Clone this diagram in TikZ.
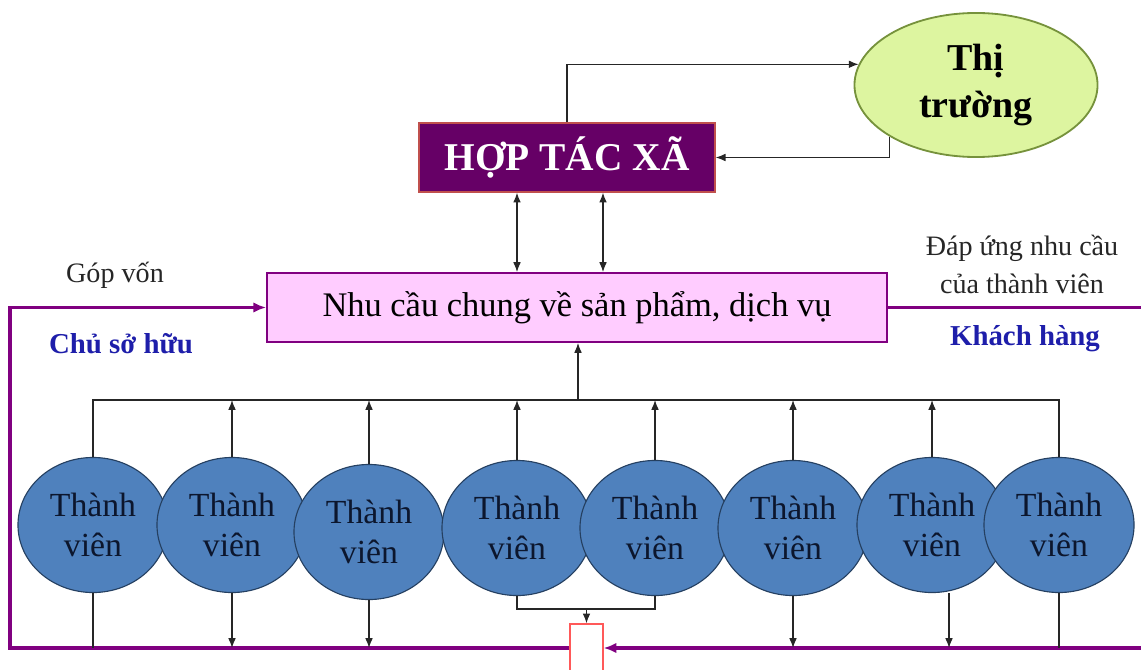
\documentclass[tikz,border=0pt]{standalone}
\usepackage{fontspec}
\setmainfont{Liberation Serif}
\usetikzlibrary{calc,shapes.geometric,arrows.meta}
\definecolor{htxfill}{RGB}{102,0,102}
\definecolor{htxline}{RGB}{192,80,77}
\definecolor{ncfill}{RGB}{255,204,255}
\definecolor{ncline}{RGB}{128,0,128}
\definecolor{ttfill}{RGB}{221,245,160}
\definecolor{ttline}{RGB}{118,146,60}
\definecolor{tvfill}{RGB}{79,129,189}
\definecolor{tvline}{RGB}{37,64,97}
\definecolor{tvtext}{RGB}{12,22,45}
\definecolor{vonline}{RGB}{128,0,128}
\definecolor{labblue}{RGB}{30,30,170}
\tikzset{
	htxbox/.style={rectangle, draw=htxline, fill=htxfill, line width=0.9pt, minimum width=7.4cm, minimum height=1.725cm, text=white, font=\fontsize{28}{32}\selectfont\bfseries},
	ncbox/.style={rectangle, draw=ncline, fill=ncfill, line width=1.3pt, minimum width=15.5cm, minimum height=1.725cm, font=\fontsize{24.5}{28}\selectfont},
	ttoval/.style={ellipse, draw=ttline, fill=ttfill, line width=1.3pt, minimum width=6.075cm, minimum height=3.6cm, inner sep=0pt, align=center, font=\fontsize{27}{33}\selectfont\bfseries},
	thanhvien/.style={ellipse, draw=tvline, fill=tvfill, line width=0.8pt, minimum width=3.75cm, minimum height=3.375cm, inner sep=0pt, align=center, text=tvtext, font=\fontsize{24}{28.5}\selectfont},
	hopbox/.style={rectangle, draw=red!65, fill=white, line width=0.9pt, minimum width=0.825cm, minimum height=1.65cm},
	ln/.style={line width=0.9pt, color=black!85},
	arr/.style={ln, -{Latex[length=7pt,width=5.5pt]}},
	dblarr/.style={ln, {Latex[length=7pt,width=5.5pt]}-{Latex[length=7pt,width=5.5pt]}},
	vonpath/.style={line width=2.2pt, color=vonline, -{Latex[length=9pt,width=7.5pt]}},
	lab/.style={text=black!85, font=\fontsize{20}{27}\selectfont},
	role/.style={text=labblue, font=\fontsize{20.5}{24}\selectfont\bfseries}
}
\begin{document}
\begin{tikzpicture}[x=0.025cm, y=-0.025cm]
	%%%%% START %%%%%
	\useasboundingbox (0,0) rectangle (1141,669);

	\node[htxbox] (htx) at (567,157.5) {HỢP TÁC XÃ};
	\node[ttoval] (tt) at (976,85) {Thị\\trường};
	\node[ncbox] (nc) at (577,307.5) {Nhu cầu chung về sản phẩm, dịch vụ};
	\node[hopbox] (box) at (586.5,657) {};

	\foreach \i/\x/\y in {1/93/525, 2/232/525, 3/369/532, 4/517/528, 5/655/528, 6/793/528, 7/932/525, 8/1059/525}
		\node[thanhvien] (tv\i) at (\x,\y) {Thành\\viên};

	\coordinate (lt) at (10,307.5);
	\coordinate (lb) at (10,648);
	\coordinate (rt) at (1150,307.5);
	\coordinate (rb) at (1150,648);
	\coordinate (bus) at (578,400);
	\coordinate (jn) at (586.5,609);

	% von gop va dap ung
	\draw[vonpath] (box.west |- lb) -- (lb) -- (lt) -- (nc.west);
	\draw[vonpath] (nc.east) -- (rt) -- (rb) -- (box.east |- rb);

	% htx - thi truong
	\draw[arr] (htx.north) |- (tt.170);
	\draw[arr] (tt.211) |- (htx.east);

	\coordinate (d1) at ($(htx.south)+(-50,0)$);
	\coordinate (d2) at ($(htx.south)+(36,0)$);
	\draw[dblarr] (d1) -- (d1 |- nc.north);
	\draw[dblarr] (d2) -- (d2 |- nc.north);

	% thanh vien len nhu cau
	\draw[ln] (tv1.north) |- (bus) -| (tv8.north);
	\draw[arr] (bus) -- (bus |- nc.south);
	\foreach \i in {2,...,7}
		\draw[arr] (tv\i.north) -- (tv\i.north |- bus);

	% thanh vien xuong duong von
	\draw[ln] (tv1.south) -- (tv1.south |- lb);
	\draw[ln] (tv8.south) -- (tv8.south |- lb);
	\foreach \i in {2,3,6}
		\draw[arr] (tv\i.south) -- (tv\i.south |- lb);
	\coordinate (t7) at ($(tv7.south)+(17,0)$);
	\draw[arr] (t7) -- (t7 |- lb);
	\draw[ln] (tv4.south) |- (jn) -| (tv5.south);
	\draw[arr] (jn) -- (box.north);

	\node[lab] (gop) at (115,275) {Góp vốn};
	\node[lab, align=center] (dap) at (1022,264) {Đáp ứng nhu cầu\\của thành viên};
	\node[role] (chu) at (121,344) {Chủ sở hữu};
	\node[role] (kh) at (1025,339) {Khách hàng};

	%%%%% END %%%%%
\end{tikzpicture}
\end{document}
